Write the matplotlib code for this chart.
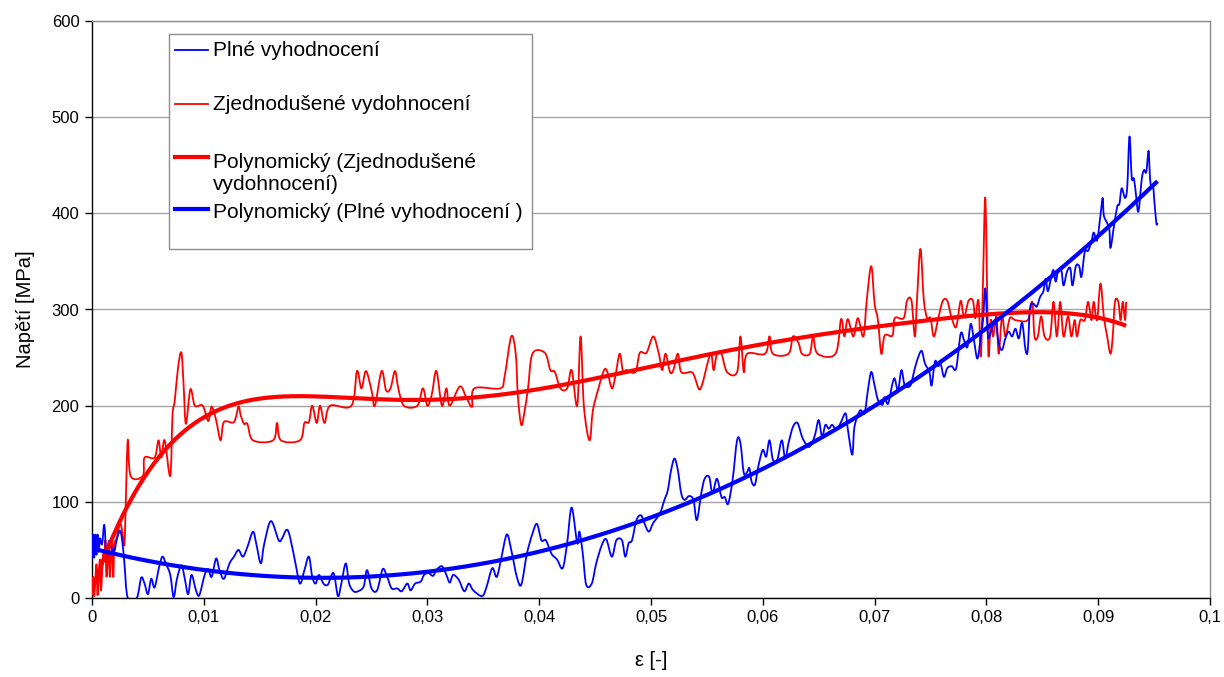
import numpy as np
import matplotlib
matplotlib.use("Agg")
import matplotlib.pyplot as plt
from matplotlib.lines import Line2D
from matplotlib.patches import Rectangle, PathPatch
from matplotlib.path import Path

plt.rcParams['font.family'] = ['Liberation Sans', 'DejaVu Sans']

# Simplified evaluation (Zjednodušené vydohnocení): strain, stress [MPa]
red_eps = [0.0000, 0.0001, 0.0002, 0.0004, 0.0005, 0.0007, 0.0008, 0.0010, 0.0011, 0.0012,
           0.0013, 0.0015, 0.0016, 0.0018, 0.0019, 0.0020, 0.0022, 0.0025, 0.0027, 0.0029,
           0.0030, 0.0032, 0.00345, 0.00455, 0.0047, 0.0056, 0.00595, 0.0062, 0.0065, 0.0070,
           0.0072, 0.0074, 0.0077, 0.0080, 0.0082, 0.0084, 0.0088, 0.0092, 0.0099, 0.0104,
           0.0107, 0.0111, 0.0115, 0.0118, 0.0127, 0.0131, 0.0133, 0.0136, 0.0139, 0.0144,
           0.0162, 0.01655, 0.0169, 0.0186, 0.0190, 0.0194, 0.0197, 0.0201, 0.0204, 0.0208,
           0.0213, 0.0232, 0.0237, 0.0241, 0.0245, 0.0250, 0.0253, 0.0259, 0.0263, 0.0267,
           0.0271, 0.0274, 0.0279, 0.0291, 0.0296, 0.0300, 0.0304, 0.0308, 0.0313, 0.0317,
           0.0320, 0.0329, 0.0335, 0.0340, 0.0342, 0.0365, 0.0369, 0.0375, 0.0379, 0.0381,
           0.0384, 0.0387, 0.0390, 0.0394, 0.0405, 0.0410, 0.0414, 0.0419, 0.0425, 0.0429,
           0.0434, 0.0437, 0.0440, 0.0445, 0.0448, 0.0453, 0.0458, 0.0461, 0.0465, 0.0468,
           0.0472, 0.0475, 0.0478, 0.0486, 0.0490, 0.0496, 0.0502, 0.0507, 0.0510, 0.0513,
           0.0517, 0.0520, 0.0524, 0.0527, 0.0536, 0.0539, 0.0543, 0.0546, 0.0551, 0.0554,
           0.0556, 0.0559, 0.0563, 0.0568, 0.0577, 0.0580, 0.0583, 0.0586, 0.0602, 0.0606,
           0.0609, 0.0623, 0.0627, 0.0632, 0.0635, 0.0642, 0.0645, 0.0649, 0.0665, 0.0670,
           0.0673, 0.0676, 0.0681, 0.0685, 0.0690, 0.0693, 0.0697, 0.0700, 0.0703, 0.0706,
           0.0709, 0.0716, 0.0718, 0.0726, 0.0729, 0.0733, 0.0736, 0.0738, 0.0741, 0.0744,
           0.0747, 0.0750, 0.0753, 0.0757, 0.0761, 0.0765, 0.0769, 0.0773, 0.0777, 0.0780,
           0.0784, 0.0788, 0.0790, 0.0793, 0.0795, 0.0797, 0.0799, 0.0801, 0.0802, 0.0804,
           0.0806, 0.0809, 0.0811, 0.0814, 0.0817, 0.0821, 0.0826, 0.0837, 0.0841, 0.0843,
           0.0846, 0.0849, 0.0852, 0.0857, 0.0860, 0.0863, 0.0866, 0.0869, 0.0873, 0.0876,
           0.0879, 0.0881, 0.0884, 0.0888, 0.0891, 0.0894, 0.0896, 0.0899, 0.0902, 0.0905,
           0.0908, 0.0911, 0.0913, 0.0915, 0.0918, 0.0920, 0.0922, 0.0924, 0.0925]
red_sig = [3, 22, 2, 35, 3, 40, 8, 45, 38, 60,
           22, 55, 22, 60, 22, 55, 62, 77, 70, 55,
           91, 164, 127, 127, 146, 146, 164, 146, 164, 127,
           190, 205, 240, 255, 220, 181, 217, 200, 200, 184,
           199, 185, 164, 183, 183, 199, 190, 181, 181, 164,
           164, 182, 164, 164, 182, 183, 200, 182, 200, 182,
           200, 200, 236, 218, 236, 216, 200, 236, 216, 218,
           236, 218, 200, 200, 218, 200, 212, 236, 200, 218,
           200, 220, 208, 199, 218, 218, 230, 272, 254, 209,
           180, 195, 218, 254, 255, 237, 235, 218, 218, 237,
           200, 272, 199, 164, 195, 218, 237, 235, 218, 230,
           254, 235, 237, 235, 255, 255, 272, 254, 237, 254,
           235, 237, 254, 235, 235, 230, 217, 223, 246, 254,
           237, 254, 254, 235, 235, 272, 235, 254, 254, 272,
           254, 254, 272, 265, 254, 254, 272, 254, 254, 290,
           272, 290, 272, 291, 272, 310, 345, 306, 289, 254,
           273, 273, 291, 291, 309, 309, 272, 312, 363, 310,
           291, 291, 272, 291, 309, 309, 291, 282, 309, 292,
           309, 309, 291, 309, 251, 331, 416, 296, 251, 289,
           272, 293, 254, 293, 272, 291, 289, 289, 308, 272,
           272, 293, 272, 272, 308, 272, 308, 272, 293, 272,
           289, 272, 289, 289, 308, 289, 308, 289, 327, 293,
           272, 254, 272, 308, 308, 289, 308, 289, 308]

# Full evaluation (Plné vyhodnocení): strain, stress [MPa]
blue_eps = [0.0000, 0.0001, 0.0002, 0.0003, 0.0004, 0.0005, 0.0006, 0.0007, 0.0009, 0.0011,
            0.0013, 0.0015, 0.0017, 0.0020, 0.0022, 0.0025, 0.0027, 0.0029, 0.0032, 0.0040,
            0.0044, 0.0047, 0.0050, 0.0053, 0.0056, 0.0060, 0.0063, 0.0066, 0.0070, 0.0073,
            0.0076, 0.0080, 0.0083, 0.0086, 0.0089, 0.0093, 0.0096, 0.0101, 0.0104, 0.0107,
            0.0111, 0.0114, 0.0118, 0.0123, 0.0127, 0.0131, 0.0135, 0.0139, 0.0144, 0.0147,
            0.0151, 0.0154, 0.0160, 0.0167, 0.0170, 0.0174, 0.0177, 0.0182, 0.0186, 0.0190,
            0.0194, 0.0197, 0.0200, 0.0203, 0.0207, 0.0211, 0.0216, 0.0220, 0.0223, 0.0227,
            0.0230, 0.0234, 0.0238, 0.0243, 0.0246, 0.0250, 0.0255, 0.0260, 0.0264, 0.0268,
            0.0273, 0.0277, 0.0282, 0.0285, 0.0289, 0.0294, 0.0297, 0.0301, 0.0305, 0.0308,
            0.0313, 0.0317, 0.0320, 0.0323, 0.0328, 0.0333, 0.0337, 0.0341, 0.0349, 0.0353,
            0.0358, 0.0362, 0.0366, 0.0371, 0.0375, 0.0380, 0.0384, 0.0389, 0.0394, 0.0398,
            0.0402, 0.0406, 0.0411, 0.0416, 0.0421, 0.0425, 0.0429, 0.0434, 0.0436, 0.0439,
            0.0442, 0.0447, 0.0451, 0.0456, 0.0460, 0.0465, 0.0469, 0.0474, 0.0477, 0.0480,
            0.0483, 0.0487, 0.0491, 0.0494, 0.0498, 0.0502, 0.0508, 0.0512, 0.0515, 0.0518,
            0.0521, 0.0524, 0.0527, 0.0530, 0.0534, 0.0538, 0.0541, 0.0545, 0.0548, 0.0552,
            0.0555, 0.0559, 0.0563, 0.0566, 0.0569, 0.0573, 0.0577, 0.0580, 0.0583, 0.0586,
            0.0588, 0.0590, 0.0593, 0.0596, 0.0600, 0.0603, 0.0606, 0.0609, 0.0613, 0.0617,
            0.0620, 0.0623, 0.0627, 0.0631, 0.0635, 0.0638, 0.0641, 0.0644, 0.0647, 0.0650,
            0.0653, 0.0656, 0.0659, 0.0662, 0.0666, 0.0670, 0.0674, 0.0676, 0.0680, 0.0682,
            0.0687, 0.0691, 0.0694, 0.0697, 0.0700, 0.0703, 0.0707, 0.0709, 0.0712, 0.0716,
            0.0718, 0.0721, 0.0724, 0.0727, 0.0732, 0.0735, 0.0738, 0.0742, 0.0745, 0.0749,
            0.0751, 0.0754, 0.0757, 0.0759, 0.0762, 0.0765, 0.0769, 0.0773, 0.0777, 0.0780,
            0.0783, 0.0786, 0.0789, 0.0792, 0.0795, 0.0797, 0.0799, 0.0801, 0.0802, 0.0805,
            0.0808, 0.0811, 0.0814, 0.0817, 0.0820, 0.0823, 0.0826, 0.0829, 0.0832, 0.0835,
            0.0837, 0.0839, 0.0842, 0.0845, 0.0848, 0.0851, 0.0853, 0.0855, 0.0858, 0.0860,
            0.0862, 0.0864, 0.0867, 0.0869, 0.0872, 0.0875, 0.0877, 0.0880, 0.0883, 0.0885,
            0.0888, 0.0891, 0.0894, 0.0896, 0.0899, 0.0902, 0.0904, 0.0905, 0.0908, 0.0910,
            0.0911, 0.0914, 0.0917, 0.0919, 0.0921, 0.0924, 0.0926, 0.0928, 0.0930, 0.0932,
            0.0934, 0.0936, 0.0939, 0.0941, 0.0943, 0.0945, 0.0946, 0.0947, 0.0949, 0.0950,
            0.0952, 0.0953]
blue_sig = [40, 66, 42, 66, 45, 66, 48, 62, 56, 76,
            43, 59, 53, 49, 60, 70, 60, 36, 0, 0,
            21, 15, 4, 20, 11, 32, 43, 36, 24, 1,
            20, 34, 20, 4, 24, 8, 3, 25, 30, 22,
            41, 29, 20, 36, 43, 50, 43, 53, 69, 56,
            36, 56, 80, 60, 62, 71, 64, 36, 15, 29,
            43, 22, 15, 24, 15, 14, 26, 2, 15, 36,
            15, 7, 7, 12, 29, 10, 8, 30, 22, 10,
            10, 7, 15, 8, 15, 17, 24, 26, 23, 29,
            33, 24, 16, 24, 19, 7, 15, 8, 2, 12,
            31, 22, 41, 66, 50, 22, 14, 46, 67, 77,
            60, 60, 46, 40, 31, 57, 94, 57, 69, 46,
            14, 15, 36, 55, 61, 43, 60, 60, 43, 57,
            60, 81, 86, 78, 69, 78, 88, 102, 112, 133,
            145, 133, 109, 102, 106, 102, 81, 109, 124, 126,
            109, 124, 105, 105, 98, 123, 164, 161, 130, 131,
            135, 121, 118, 137, 154, 147, 164, 144, 144, 164,
            145, 161, 178, 182, 168, 161, 157, 161, 171, 185,
            168, 180, 176, 180, 175, 183, 192, 176, 149, 178,
            195, 192, 216, 235, 221, 206, 201, 209, 202, 223,
            228, 216, 237, 221, 221, 234, 247, 257, 244, 235,
            221, 246, 241, 244, 230, 239, 241, 239, 275, 268,
            261, 285, 267, 249, 272, 289, 322, 279, 270, 280,
            289, 265, 258, 270, 277, 272, 280, 270, 286, 258,
            258, 301, 306, 303, 313, 319, 332, 319, 334, 341,
            329, 339, 341, 325, 339, 343, 325, 345, 345, 334,
            360, 361, 371, 380, 372, 398, 416, 398, 390, 383,
            364, 386, 407, 410, 426, 416, 428, 480, 437, 436,
            417, 402, 436, 445, 443, 465, 445, 429, 429, 416,
            390, 390]

# Polynomial trend orders
red_order = 6
blue_order = 3

x_ticks = [0, 0.01, 0.02, 0.03, 0.04, 0.05, 0.06, 0.07, 0.08, 0.09, 0.1]
x_tick_labels = ["0", "0,01", "0,02", "0,03", "0,04", "0,05", "0,06", "0,07", "0,08", "0,09", "0,1"]
y_ticks = [0, 100, 200, 300, 400, 500, 600]

legend_labels = [["Plné vyhodnocení"],
                 ["Zjednodušené vydohnocení"],
                 ["Polynomický (Zjednodušené", "vydohnocení)"],
                 ["Polynomický (Plné vyhodnocení )"]]

W, H = 1224, 677
fig = plt.figure(figsize=(W / 100, H / 100), dpi=100)
ax = fig.add_axes([92 / W, 1 - 598 / H, (1210 - 92) / W, (598 - 21) / H])

RED = "#ff0000"
BLUE = "#0000ff"


def smooth_line(ax, x, y, **kw):
    """Draw a smoothed (Catmull-Rom / Bezier) line through the points."""
    p = np.column_stack([x, y]).astype(float)
    ext = np.vstack([p[0], p, p[-1]])
    verts = [p[0]]
    codes = [Path.MOVETO]
    for i in range(len(p) - 1):
        p0, p1, p2, p3 = ext[i], ext[i + 1], ext[i + 2], ext[i + 3]
        c1 = p1 + (p2 - p0) / 6.0
        c2 = p2 - (p3 - p1) / 6.0
        verts += [c1, c2, p2]
        codes += [Path.CURVE4] * 3
    patch = PathPatch(Path(verts, codes), fill=False, **kw)
    ax.add_patch(patch)
    return patch


red_e = np.array(red_eps)
red_s = np.array(red_sig)
blue_e = np.array(blue_eps)
blue_s = np.array(blue_sig)

smooth_line(ax, red_e, red_s, edgecolor=RED, lw=1.3, zorder=3, joinstyle="round")
smooth_line(ax, blue_e, blue_s, edgecolor=BLUE, lw=1.3, zorder=4, joinstyle="round")

red_fit = np.polynomial.Polynomial.fit(red_e, red_s, red_order)
blue_fit = np.polynomial.Polynomial.fit(blue_e, blue_s, blue_order)
xr = np.linspace(red_e.min(), red_e.max(), 400)
xb = np.linspace(blue_e.min(), blue_e.max(), 400)
ax.plot(xr, red_fit(xr), color=RED, lw=3.0, zorder=5, solid_capstyle="butt")
ax.plot(xb, blue_fit(xb), color=BLUE, lw=3.0, zorder=6, solid_capstyle="butt")

ax.set_xlim(0, 0.1)
ax.set_ylim(0, 600)
ax.set_xticks(x_ticks)
ax.set_xticklabels(x_tick_labels)
ax.set_yticks(y_ticks)
ax.tick_params(axis="both", direction="out", length=5, width=1, color="black",
               labelsize=12, pad=4)
ax.yaxis.grid(True, color="#a6a6a6", lw=1)
ax.set_axisbelow(True)
for side in ("left", "bottom"):
    ax.spines[side].set_color("black")
    ax.spines[side].set_linewidth(1)
for side in ("top", "right"):
    ax.spines[side].set_color("#8c8c8c")
    ax.spines[side].set_linewidth(1)

ax.set_ylabel("Napětí [MPa]", fontsize=14.5, labelpad=12)
ax.set_xlabel("ε [-]", fontsize=14.5, labelpad=18)

# Legend box drawn in figure pixel coordinates
def fx(px):
    return px / W


def fy(py):
    return 1 - py / H


fig.patches.append(Rectangle((fx(169), fy(249)), fx(532) - fx(169), fy(34) - fy(249),
                             transform=fig.transFigure, facecolor="white",
                             edgecolor="#8c8c8c", lw=1, zorder=10))
handles = [(BLUE, 1.3, 50), (RED, 1.3, 104), (RED, 3.0, 157), (BLUE, 3.0, 209)]
text_rows = [[50], [105], [162, 184], [213]]
for (c, lw, hy), lines, rows in zip(handles, legend_labels, text_rows):
    fig.lines.append(Line2D([fx(175), fx(208)], [fy(hy), fy(hy)], transform=fig.transFigure,
                            color=c, lw=lw, zorder=11))
    for line, ty in zip(lines, rows):
        fig.text(fx(213), fy(ty), line, fontsize=15, va="center", ha="left", zorder=12)

fig.savefig("out.png", dpi=100)
